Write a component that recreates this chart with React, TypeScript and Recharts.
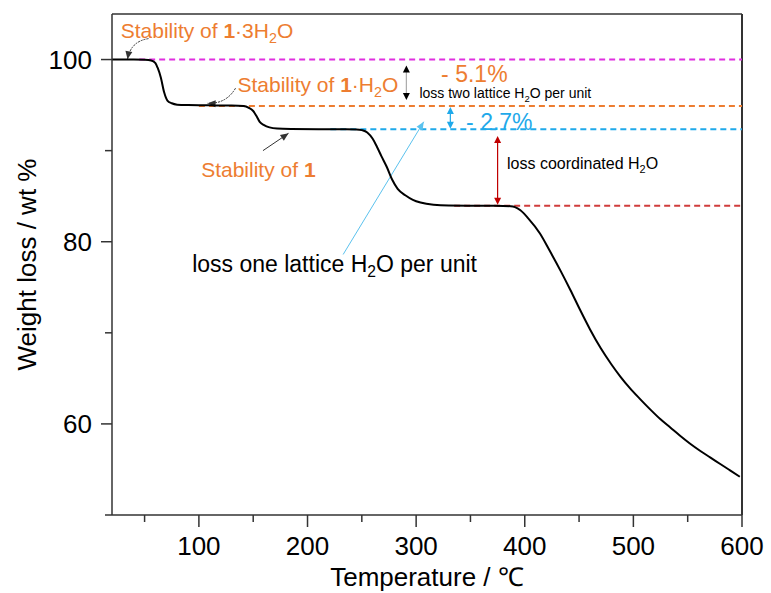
import { LineChart, Line, XAxis, YAxis, ReferenceLine, ReferenceDot, Label } from 'recharts';

// TGA curve (temperature in degC, weight in wt %)
const temps = [
  20, 40, 50, 56, 60, 62, 65, 68, 71, 75, 80, 90, 110, 130, 141, 146, 150, 153, 156, 160, 165, 172,
  185, 210, 235, 245, 250, 255, 260, 264, 268, 273, 278, 283, 290, 297, 304, 316, 330, 360, 380,
  387, 391, 396, 403, 414, 423, 433, 442, 451, 460, 470, 480, 488, 497, 506, 515, 525, 534, 543,
  552, 562, 571, 580, 589, 598,
];
const weights = [
  100, 100, 99.97, 99.9, 99.6, 99.1, 98.0, 96.4, 95.5, 95.2, 95.05, 95.0, 94.97, 94.95, 94.9, 94.7,
  94.35, 93.8, 93.15, 92.8, 92.55, 92.42, 92.38, 92.36, 92.35, 92.33, 92.25, 92.0, 91.3, 90.4, 89.4,
  88.2, 86.8, 85.8, 85.1, 84.6, 84.3, 84.05, 83.97, 83.95, 83.93, 83.9, 83.8, 83.45, 82.6, 80.9,
  79.0, 76.8, 74.7, 72.5, 70.4, 68.3, 66.5, 65.2, 63.9, 62.75, 61.65, 60.5, 59.6, 58.7, 57.85, 57.0,
  56.3, 55.6, 54.9, 54.2,
];

const xTicks = [50, 100, 150, 200, 250, 300, 350, 400, 450, 500, 550, 600];
const yTicks = [50, 60, 70, 80, 90, 100];

// plateau levels and where their dashed guides start
const plateauLevels = [100, 94.9, 92.35, 83.95];
const plateauStarts = [45, 100, 221, 335];

// double arrows: x position, top and bottom value
const gapArrowX = [291, 331.5, 375];
const gapArrowTop = [99.35, 94.8, 91.6];
const gapArrowBottom = [95.55, 92.4, 84.05];

// annotation anchors (temperature, weight)
const noteX = [28, 135.5, 102.1, 323, 303, 346, 383.7, 93.8];
const noteY = [102.33, 96.45, 87.14, 97.55, 95.73, 92.26, 87.95, 76.63];

// pointer arrows: tail -> head
const pointerFrom = [
  { x: 53.6, y: 102.3 },
  { x: 133.7, y: 96.85 },
  { x: 159, y: 90.0 },
  { x: 232.8, y: 78.6 },
];
const pointerTo = [
  { x: 34.3, y: 100.03 },
  { x: 108, y: 95.2 },
  { x: 182.5, y: 91.9 },
  { x: 307, y: 93.17 },
];

const data = temps.map((t, i) => ({ t, w: weights[i] }));

const FONT = "Arial, 'Liberation Sans', sans-serif";
const AXIS = '#333';
const ORANGE = '#ED7D31';
const BLUE = '#1FA9EA';
const guideColors = ['#E02FE0', ORANGE, BLUE, '#D03C3C'];
const gapArrowColors = ['#000', BLUE, '#C00000'];
const gapLineColors = ['#aaa', BLUE, '#C00000'];

const TICK = 12;
const GAP = 8;

const head = (x: number, y: number, fx: number, fy: number, len: number, half: number, color: string) => {
  const dx = x - fx;
  const dy = y - fy;
  const l = Math.hypot(dx, dy) || 1;
  const ux = dx / l;
  const uy = dy / l;
  const bx = x - ux * len;
  const by = y - uy * len;
  return (
    <polygon
      points={`${x},${y} ${bx - uy * half},${by + ux * half} ${bx + uy * half},${by - ux * half}`}
      fill={color}
    />
  );
};

const doubleArrow = (lineColor: string, headColor: string) => (p: any) => {
  const { x1, y1, x2, y2 } = p;
  return (
    <g>
      <line x1={x1} y1={y1 + 5} x2={x2} y2={y2 - 5} stroke={lineColor} strokeWidth={1.2} />
      {head(x1, y1, x2, y2, 7, 3.5, headColor)}
      {head(x2, y2, x1, y1, 7, 3.5, headColor)}
    </g>
  );
};

const pointer = (color: string, width: number, bend: number, dashed: boolean) => (p: any) => {
  const { x1, y1, x2, y2 } = p;
  const dx = x2 - x1;
  const dy = y2 - y1;
  const mx = (x1 + x2) / 2 - dy * bend;
  const my = (y1 + y2) / 2 + dx * bend;
  const d = bend === 0 ? `M${x1},${y1} L${x2},${y2}` : `M${x1},${y1} Q${mx},${my} ${x2},${y2}`;
  const fx = bend === 0 ? x1 : mx;
  const fy = bend === 0 ? y1 : my;
  return (
    <g>
      <path d={d} fill="none" stroke={color} strokeWidth={width} strokeDasharray={dashed ? '2 1' : undefined} />
      {head(x2, y2, fx, fy, 8, 3.5, color)}
    </g>
  );
};

const pointerShapes = [
  pointer('#333', 1, 0.36, true),
  pointer('#333', 1, -0.3, true),
  pointer('#333', 1, 0, false),
  pointer('#5BC2EE', 1, 0, false),
];

const sub = (size: number, n: string, after: string) => (
  <>
    <tspan fontSize={size * 0.68} dy={size * 0.22}>{n}</tspan>
    <tspan dy={-size * 0.22}>{after}</tspan>
  </>
);

const notes = [
  (x: number, y: number) => (
    <text x={x} y={y} fontSize={21} fill={ORANGE} fontFamily={FONT}>
      Stability of <tspan fontWeight="bold">1</tspan>·3H{sub(21, '2', 'O')}
    </text>
  ),
  (x: number, y: number) => (
    <text x={x} y={y} fontSize={21} fill={ORANGE} fontFamily={FONT}>
      Stability of <tspan fontWeight="bold">1</tspan>·H{sub(21, '2', 'O')}
    </text>
  ),
  (x: number, y: number) => (
    <text x={x} y={y} fontSize={21} fill={ORANGE} fontFamily={FONT}>
      Stability of <tspan fontWeight="bold">1</tspan>
    </text>
  ),
  (x: number, y: number) => (
    <text x={x} y={y} fontSize={23} fill={ORANGE} fontFamily={FONT}>- 5.1%</text>
  ),
  (x: number, y: number) => (
    <text x={x} y={y} fontSize={14} fill="#000" fontFamily={FONT}>
      loss two lattice H{sub(14, '2', 'O per unit')}
    </text>
  ),
  (x: number, y: number) => (
    <text x={x} y={y} fontSize={23} fill={BLUE} fontFamily={FONT}>- 2.7%</text>
  ),
  (x: number, y: number) => (
    <text x={x} y={y} fontSize={16} fill="#000" fontFamily={FONT}>
      loss coordinated H{sub(16, '2', 'O')}
    </text>
  ),
  (x: number, y: number) => (
    <text x={x} y={y} fontSize={23} fill="#000" fontFamily={FONT}>
      loss one lattice H{sub(23, '2', 'O per unit')}
    </text>
  ),
];

const XTick = (p: any) => {
  const { x, y, payload } = p;
  const v = payload.value;
  const major = v % 100 === 0;
  const axisY = y - TICK - GAP;
  return (
    <g>
      <line x1={x} x2={x} y1={axisY} y2={axisY + (major ? TICK : 7)} stroke={AXIS} strokeWidth={1.5} />
      {major && (
        <text x={x} y={axisY + 40} textAnchor="middle" fontSize={26} fill="#000" fontFamily={FONT}>
          {v}
        </text>
      )}
    </g>
  );
};

const YTick = (p: any) => {
  const { x, y, payload } = p;
  const v = payload.value;
  const major = v % 20 === 0;
  const axisX = x + TICK + GAP;
  return (
    <g>
      <line x1={axisX} x2={axisX - (major ? 11 : 7)} y1={y} y2={y} stroke={AXIS} strokeWidth={1.5} />
      {major && (
        <text x={axisX - 20} y={y} dy={9} textAnchor="end" fontSize={26} fill="#000" fontFamily={FONT}>
          {v}
        </text>
      )}
    </g>
  );
};

const YTitle = (p: any) => {
  const vb = p.viewBox;
  const cx = 27;
  const cy = vb.y + vb.height / 2;
  return (
    <text
      x={cx}
      y={cy}
      dy={9}
      transform={`rotate(-90, ${cx}, ${cy})`}
      textAnchor="middle"
      fontSize={26}
      fill="#000"
      fontFamily={FONT}
    >
      Weight loss / wt %
    </text>
  );
};

const XTitle = (p: any) => {
  const vb = p.viewBox;
  return (
    <text x={vb.x + vb.width / 2} y={vb.y + 71} textAnchor="middle" fontSize={26} fill="#000" fontFamily={FONT}>
      Temperature / ℃
    </text>
  );
};

export default function App() {
  return (
    <div style={{ position: 'absolute', left: 0, top: 0, width: 771, height: 593, background: '#fff' }}>
      <LineChart width={771} height={593} data={data} margin={{ top: 14, right: 29, bottom: 0, left: 0 }}>
        <XAxis
          dataKey="t"
          type="number"
          domain={[20, 600]}
          ticks={xTicks}
          interval={0}
          height={78}
          tickSize={TICK}
          tickMargin={GAP}
          tickLine={false}
          tick={<XTick />}
          axisLine={{ stroke: AXIS, strokeWidth: 1.5 }}
          allowDataOverflow
        >
          <Label content={XTitle} />
        </XAxis>
        <YAxis
          type="number"
          domain={[50, 105]}
          ticks={yTicks}
          interval={0}
          width={112}
          tickSize={TICK}
          tickMargin={GAP}
          tickLine={false}
          tick={<YTick />}
          axisLine={{ stroke: AXIS, strokeWidth: 1.5 }}
          allowDataOverflow
        >
          <Label content={YTitle} />
        </YAxis>

        <ReferenceLine y={105} stroke={AXIS} strokeWidth={1.5} />
        <ReferenceLine x={600} stroke={AXIS} strokeWidth={2} />

        {plateauLevels.map((lv, i) => (
          <ReferenceLine
            key={`g${i}`}
            segment={[{ x: plateauStarts[i], y: lv }, { x: 600, y: lv }]}
            stroke={guideColors[i]}
            strokeWidth={2}
            strokeDasharray="6 4"
          />
        ))}

        {gapArrowX.map((gx, i) => (
          <ReferenceLine
            key={`a${i}`}
            segment={[{ x: gx, y: gapArrowTop[i] }, { x: gx, y: gapArrowBottom[i] }]}
            shape={doubleArrow(gapLineColors[i], gapArrowColors[i])}
          />
        ))}

        {pointerFrom.map((f, i) => (
          <ReferenceLine key={`p${i}`} segment={[f, pointerTo[i]]} shape={pointerShapes[i]} />
        ))}

        <Line
          dataKey="w"
          type="monotone"
          stroke="#000"
          strokeWidth={2}
          dot={false}
          isAnimationActive={false}
        />

        {noteX.map((nx, i) => (
          <ReferenceDot key={`n${i}`} x={nx} y={noteY[i]} r={0} shape={(p: any) => notes[i](p.cx, p.cy)} />
        ))}
      </LineChart>
    </div>
  );
}
